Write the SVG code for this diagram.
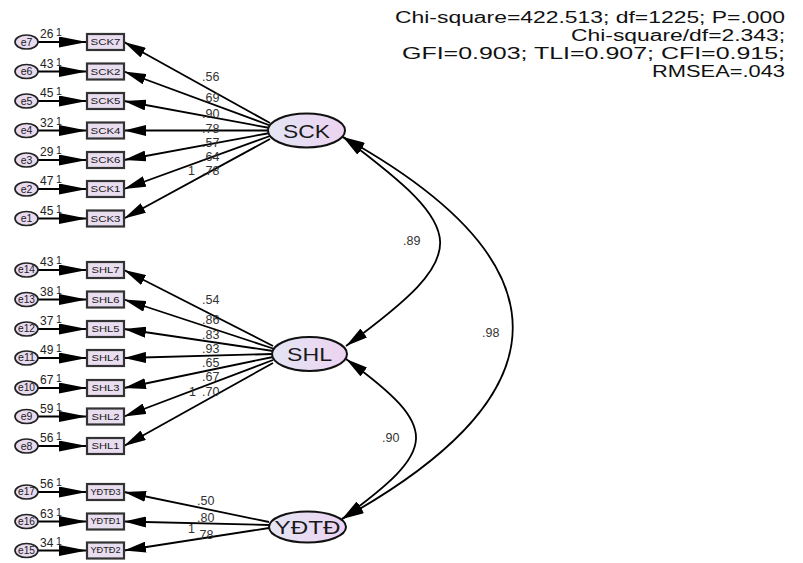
<svg xmlns="http://www.w3.org/2000/svg" width="803" height="563" viewBox="0 0 803 563">
<style>
text{font-family:"Liberation Sans",Arial,sans-serif;fill:#1a1a1a}
.err ellipse{fill:#e8dbf0;stroke:#222;stroke-width:1.7}
.err text{font-size:10.5px;text-anchor:middle}
.obs rect{fill:#e9ddf0;stroke:#333;stroke-width:2.2}
.obs text{font-size:9px;text-anchor:middle}
.lat ellipse{fill:url(#lg);stroke:#111;stroke-width:2}
.lat text{font-size:19px;text-anchor:middle}
.ln{stroke:#000;stroke-width:1.8;fill:none}
.ea{marker-end:url(#ahE)}
.la{marker-end:url(#ahL)}
.cv{marker-start:url(#ahC);marker-end:url(#ahC)}
.var{font-size:12px;fill:#222}
.one{font-size:10.5px;fill:#222}
.lb{font-size:12.5px;fill:#333}
.hdr{font-size:16px;text-anchor:end;fill:#111}
</style>
<defs>
<linearGradient id="lg" x1="0" y1="0" x2="1" y2="0">
<stop offset="0" stop-color="#e3e5f4"/>
<stop offset="1" stop-color="#edd3f1"/>
</linearGradient>
<marker id="ahE" markerWidth="28" markerHeight="11" refX="28" refY="5.5" orient="auto" markerUnits="userSpaceOnUse"><path d="M0,0 L28,5.5 L0,11 z" fill="#000"/></marker>
<marker id="ahL" markerWidth="22" markerHeight="11" refX="22" refY="5.5" orient="auto" markerUnits="userSpaceOnUse"><path d="M0,0 L22,5.5 L0,11 z" fill="#000"/></marker>
<marker id="ahC" markerWidth="22" markerHeight="11" refX="22" refY="5.5" orient="auto-start-reverse" markerUnits="userSpaceOnUse"><path d="M0,0 L22,5.5 L0,11 z" fill="#000"/></marker>
</defs>

<g id="connectors">
<line class="ln ea" x1="38" y1="42" x2="87" y2="42"/>
<line class="ln ea" x1="38" y1="71.5" x2="87" y2="71.5"/>
<line class="ln ea" x1="38" y1="101" x2="87" y2="101"/>
<line class="ln ea" x1="38" y1="130.5" x2="87" y2="130.5"/>
<line class="ln ea" x1="38" y1="160" x2="87" y2="160"/>
<line class="ln ea" x1="38" y1="189" x2="87" y2="189"/>
<line class="ln ea" x1="38" y1="218.5" x2="87" y2="218.5"/>
<line class="ln ea" x1="38" y1="270" x2="87" y2="270"/>
<line class="ln ea" x1="38" y1="299.5" x2="87" y2="299.5"/>
<line class="ln ea" x1="38" y1="329" x2="87" y2="329"/>
<line class="ln ea" x1="38" y1="358" x2="87" y2="358"/>
<line class="ln ea" x1="38" y1="388" x2="87" y2="388"/>
<line class="ln ea" x1="38" y1="416.5" x2="87" y2="416.5"/>
<line class="ln ea" x1="38" y1="446" x2="87" y2="446"/>
<line class="ln ea" x1="38" y1="492" x2="87" y2="492"/>
<line class="ln ea" x1="38" y1="521.5" x2="87" y2="521.5"/>
<line class="ln ea" x1="38" y1="550.5" x2="87" y2="550.5"/>
<line class="ln la" x1="270" y1="123" x2="124" y2="42"/>
<line class="ln la" x1="270" y1="125.5" x2="124" y2="71.5"/>
<line class="ln la" x1="270" y1="128" x2="124" y2="101"/>
<line class="ln la" x1="270" y1="130.5" x2="124" y2="130.5"/>
<line class="ln la" x1="270" y1="133" x2="124" y2="160"/>
<line class="ln la" x1="270" y1="136" x2="124" y2="189"/>
<line class="ln la" x1="270" y1="139" x2="124" y2="218.5"/>
<line class="ln la" x1="273" y1="346" x2="124" y2="270"/>
<line class="ln la" x1="273" y1="348.5" x2="124" y2="299.5"/>
<line class="ln la" x1="273" y1="351" x2="124" y2="329"/>
<line class="ln la" x1="273" y1="354" x2="124" y2="358"/>
<line class="ln la" x1="273" y1="357" x2="124" y2="388"/>
<line class="ln la" x1="273" y1="360" x2="124" y2="416.5"/>
<line class="ln la" x1="273" y1="363" x2="124" y2="446"/>
<line class="ln la" x1="269" y1="522" x2="124" y2="492"/>
<line class="ln la" x1="269" y1="525" x2="124" y2="521.5"/>
<line class="ln la" x1="269" y1="528" x2="124" y2="550.5"/>
<path class="ln cv" d="M343,137 C470,232 474,252 346,346"/>
<path class="ln cv" d="M346,359 C442,429 438,449 342,519"/>
<path class="ln cv" d="M343,137 C570,263 569,393 342,519"/>
</g>

<g id="edge-labels">
<text class="var" x="40" y="38">26</text><text class="one" x="56" y="36">1</text>
<text class="var" x="40" y="67.5">43</text><text class="one" x="56" y="65.5">1</text>
<text class="var" x="40" y="97">45</text><text class="one" x="56" y="95">1</text>
<text class="var" x="40" y="126.5">32</text><text class="one" x="56" y="124.5">1</text>
<text class="var" x="40" y="156">29</text><text class="one" x="56" y="154">1</text>
<text class="var" x="40" y="185">47</text><text class="one" x="56" y="183">1</text>
<text class="var" x="40" y="214.5">45</text><text class="one" x="56" y="212.5">1</text>
<text class="var" x="40" y="266">43</text><text class="one" x="56" y="264">1</text>
<text class="var" x="40" y="295.5">38</text><text class="one" x="56" y="293.5">1</text>
<text class="var" x="40" y="325">37</text><text class="one" x="56" y="323">1</text>
<text class="var" x="40" y="354">49</text><text class="one" x="56" y="352">1</text>
<text class="var" x="40" y="384">67</text><text class="one" x="56" y="382">1</text>
<text class="var" x="40" y="412.5">59</text><text class="one" x="56" y="410.5">1</text>
<text class="var" x="40" y="442">56</text><text class="one" x="56" y="440">1</text>
<text class="var" x="40" y="488">56</text><text class="one" x="56" y="486">1</text>
<text class="var" x="40" y="517.5">63</text><text class="one" x="56" y="515.5">1</text>
<text class="var" x="40" y="546.5">34</text><text class="one" x="56" y="544.5">1</text>

<text class="lb" x="202" y="81">.56</text>
<text class="lb" x="202" y="102">.69</text>
<text class="lb" x="202" y="118">.90</text>
<text class="lb" x="202" y="132.5">.78</text>
<text class="lb" x="202" y="146.5">.57</text>
<text class="lb" x="202" y="160.5">.64</text>
<text class="lb" x="188" y="174.5">1</text>
<text class="lb" x="202" y="174.5">.78</text>

<text class="lb" x="202" y="304">.54</text>
<text class="lb" x="202" y="324">.86</text>
<text class="lb" x="202" y="339">.83</text>
<text class="lb" x="202" y="353">.93</text>
<text class="lb" x="202" y="367">.65</text>
<text class="lb" x="202" y="381">.67</text>
<text class="lb" x="189" y="396">1</text>
<text class="lb" x="202" y="396">.70</text>

<text class="lb" x="197" y="505">.50</text>
<text class="lb" x="197" y="522">.80</text>
<text class="lb" x="188" y="533">1</text>
<text class="lb" x="196" y="539">.78</text>

<text class="lb" x="403" y="245">.89</text>
<text class="lb" x="482" y="337">.98</text>
<text class="lb" x="382" y="442">.90</text>
</g>

<g id="e7" class="err"><ellipse cx="26.5" cy="42" rx="11.5" ry="7"/><text x="26.5" y="45.5">e7</text></g>
<g id="e6" class="err"><ellipse cx="26.5" cy="71.5" rx="11.5" ry="7"/><text x="26.5" y="75">e6</text></g>
<g id="e5" class="err"><ellipse cx="26.5" cy="101" rx="11.5" ry="7"/><text x="26.5" y="104.5">e5</text></g>
<g id="e4" class="err"><ellipse cx="26.5" cy="130.5" rx="11.5" ry="7"/><text x="26.5" y="134">e4</text></g>
<g id="e3" class="err"><ellipse cx="26.5" cy="160" rx="11.5" ry="7"/><text x="26.5" y="163.5">e3</text></g>
<g id="e2" class="err"><ellipse cx="26.5" cy="189" rx="11.5" ry="7"/><text x="26.5" y="192.5">e2</text></g>
<g id="e1" class="err"><ellipse cx="26.5" cy="218.5" rx="11.5" ry="7"/><text x="26.5" y="222">e1</text></g>
<g id="e14" class="err"><ellipse cx="26.5" cy="270" rx="11.5" ry="7"/><text x="26.5" y="273" font-size="8.5" textLength="17" lengthAdjust="spacingAndGlyphs">e14</text></g>
<g id="e13" class="err"><ellipse cx="26.5" cy="299.5" rx="11.5" ry="7"/><text x="26.5" y="302.5" font-size="8.5" textLength="17" lengthAdjust="spacingAndGlyphs">e13</text></g>
<g id="e12" class="err"><ellipse cx="26.5" cy="329" rx="11.5" ry="7"/><text x="26.5" y="332" font-size="8.5" textLength="17" lengthAdjust="spacingAndGlyphs">e12</text></g>
<g id="e11" class="err"><ellipse cx="26.5" cy="358" rx="11.5" ry="7"/><text x="26.5" y="361" font-size="8.5" textLength="17" lengthAdjust="spacingAndGlyphs">e11</text></g>
<g id="e10" class="err"><ellipse cx="26.5" cy="388" rx="11.5" ry="7"/><text x="26.5" y="391" font-size="8.5" textLength="17" lengthAdjust="spacingAndGlyphs">e10</text></g>
<g id="e9" class="err"><ellipse cx="26.5" cy="416.5" rx="11.5" ry="7"/><text x="26.5" y="420">e9</text></g>
<g id="e8" class="err"><ellipse cx="26.5" cy="446" rx="11.5" ry="7"/><text x="26.5" y="449.5">e8</text></g>
<g id="e17" class="err"><ellipse cx="26.5" cy="492" rx="11.5" ry="7"/><text x="26.5" y="495" font-size="8.5" textLength="17" lengthAdjust="spacingAndGlyphs">e17</text></g>
<g id="e16" class="err"><ellipse cx="26.5" cy="521.5" rx="11.5" ry="7"/><text x="26.5" y="524.5" font-size="8.5" textLength="17" lengthAdjust="spacingAndGlyphs">e16</text></g>
<g id="e15" class="err"><ellipse cx="26.5" cy="550.5" rx="11.5" ry="7"/><text x="26.5" y="553.5" font-size="8.5" textLength="17" lengthAdjust="spacingAndGlyphs">e15</text></g>

<g id="SCK7" class="obs"><rect x="87" y="34" width="37" height="16"/><text x="105.5" y="45.2" textLength="30" lengthAdjust="spacingAndGlyphs">SCK7</text></g>
<g id="SCK2" class="obs"><rect x="87" y="63.5" width="37" height="16"/><text x="105.5" y="74.7" textLength="30" lengthAdjust="spacingAndGlyphs">SCK2</text></g>
<g id="SCK5" class="obs"><rect x="87" y="93" width="37" height="16"/><text x="105.5" y="104.2" textLength="30" lengthAdjust="spacingAndGlyphs">SCK5</text></g>
<g id="SCK4" class="obs"><rect x="87" y="122.5" width="37" height="16"/><text x="105.5" y="133.7" textLength="30" lengthAdjust="spacingAndGlyphs">SCK4</text></g>
<g id="SCK6" class="obs"><rect x="87" y="152" width="37" height="16"/><text x="105.5" y="163.2" textLength="30" lengthAdjust="spacingAndGlyphs">SCK6</text></g>
<g id="SCK1" class="obs"><rect x="87" y="181" width="37" height="16"/><text x="105.5" y="192.2" textLength="30" lengthAdjust="spacingAndGlyphs">SCK1</text></g>
<g id="SCK3" class="obs"><rect x="87" y="210.5" width="37" height="16"/><text x="105.5" y="221.7" textLength="30" lengthAdjust="spacingAndGlyphs">SCK3</text></g>
<g id="SHL7" class="obs"><rect x="87" y="262" width="37" height="16"/><text x="105.5" y="273.2" textLength="28" lengthAdjust="spacingAndGlyphs">SHL7</text></g>
<g id="SHL6" class="obs"><rect x="87" y="291.5" width="37" height="16"/><text x="105.5" y="302.7" textLength="28" lengthAdjust="spacingAndGlyphs">SHL6</text></g>
<g id="SHL5" class="obs"><rect x="87" y="321" width="37" height="16"/><text x="105.5" y="332.2" textLength="28" lengthAdjust="spacingAndGlyphs">SHL5</text></g>
<g id="SHL4" class="obs"><rect x="87" y="350" width="37" height="16"/><text x="105.5" y="361.2" textLength="28" lengthAdjust="spacingAndGlyphs">SHL4</text></g>
<g id="SHL3" class="obs"><rect x="87" y="380" width="37" height="16"/><text x="105.5" y="391.2" textLength="28" lengthAdjust="spacingAndGlyphs">SHL3</text></g>
<g id="SHL2" class="obs"><rect x="87" y="408.5" width="37" height="16"/><text x="105.5" y="419.7" textLength="28" lengthAdjust="spacingAndGlyphs">SHL2</text></g>
<g id="SHL1" class="obs"><rect x="87" y="438" width="37" height="16"/><text x="105.5" y="449.2" textLength="28" lengthAdjust="spacingAndGlyphs">SHL1</text></g>
<g id="YDTD3" class="obs"><rect x="87" y="484" width="37" height="16"/><text x="105.5" y="494.8" font-size="8" textLength="30" lengthAdjust="spacingAndGlyphs">YĐTĐ3</text></g>
<g id="YDTD1" class="obs"><rect x="87" y="513.5" width="37" height="16"/><text x="105.5" y="524.3" font-size="8" textLength="30" lengthAdjust="spacingAndGlyphs">YĐTĐ1</text></g>
<g id="YDTD2" class="obs"><rect x="87" y="542.5" width="37" height="16"/><text x="105.5" y="553.3" font-size="8" textLength="30" lengthAdjust="spacingAndGlyphs">YĐTĐ2</text></g>

<g id="SCK" class="lat"><ellipse cx="306.5" cy="130.5" rx="38.5" ry="17"/><text x="306.5" y="137.5" textLength="47" lengthAdjust="spacingAndGlyphs">SCK</text></g>
<g id="SHL" class="lat"><ellipse cx="309.5" cy="354" rx="37.5" ry="17"/><text x="309.5" y="361" textLength="45" lengthAdjust="spacingAndGlyphs">SHL</text></g>
<g id="YDTD" class="lat"><ellipse cx="307.5" cy="527" rx="38.5" ry="15.5"/><text x="307.5" y="534" textLength="66" lengthAdjust="spacingAndGlyphs">YĐTĐ</text></g>

<g id="fit-stats">
<text class="hdr" x="785" y="23" textLength="390" lengthAdjust="spacingAndGlyphs">Chi-square=422.513; df=1225; P=.000</text>
<text class="hdr" x="785" y="41" textLength="214" lengthAdjust="spacingAndGlyphs">Chi-square/df=2.343;</text>
<text class="hdr" x="785" y="59" textLength="383" lengthAdjust="spacingAndGlyphs">GFI=0.903; TLI=0.907; CFI=0.915;</text>
<text class="hdr" x="785" y="77" textLength="133" lengthAdjust="spacingAndGlyphs">RMSEA=.043</text>
</g>
</svg>
